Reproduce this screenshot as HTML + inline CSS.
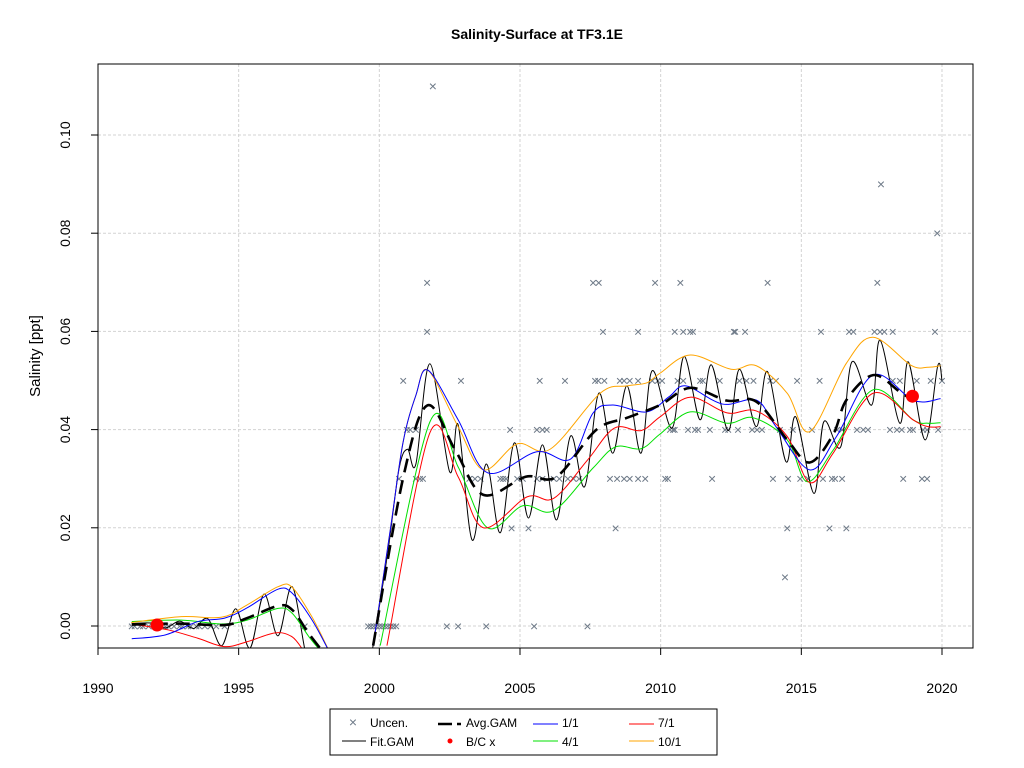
<!DOCTYPE html>
<html><head><meta charset="utf-8"><style>
body{margin:0;background:#fff;}
svg{display:block;font-family:"Liberation Sans",Arial,sans-serif;}
</style></head><body>
<svg id="chart" width="1024" height="768">
<text x="537" y="39" text-anchor="middle" font-size="14" font-weight="bold">Salinity-Surface at TF3.1E</text>
<text transform="translate(40,356) rotate(-90)" text-anchor="middle" font-size="15">Salinity [ppt]</text>
<defs><clipPath id="pc"><rect x="98" y="64" width="875" height="584"/></clipPath></defs>
<g id="grid"></g>
<g id="axes"></g>
<g id="marks" clip-path="url(#pc)"></g>
<rect x="98" y="64" width="875" height="584" fill="none" stroke="#000"/>
<g>
<rect x="330" y="709" width="387" height="46" fill="#fff" stroke="#000"/>
<g><text x="353" y="727" font-size="14" fill="#6e7a88" text-anchor="middle">×</text><text x="370" y="727" font-size="12">Uncen.</text></g>
<g><line x1="342" y1="741" x2="366" y2="741" stroke="#000"/><text x="370" y="746" font-size="12">Fit.GAM</text></g>
<g><line x1="438" y1="724" x2="452" y2="724" stroke="#000" stroke-width="2.5"/><line x1="457" y1="724" x2="461" y2="724" stroke="#000" stroke-width="2.5"/><text x="466" y="727" font-size="12">Avg.GAM</text></g>
<g><circle cx="450" cy="741" r="2.5" fill="red"/><text x="466" y="746" font-size="12">B/C x</text></g>
<g><line x1="533" y1="724" x2="558" y2="724" stroke="blue"/><text x="562" y="727" font-size="12">1/1</text></g>
<g><line x1="533" y1="741" x2="558" y2="741" stroke="#00e000"/><text x="562" y="746" font-size="12">4/1</text></g>
<g><line x1="629" y1="724" x2="654" y2="724" stroke="red"/><text x="658" y="727" font-size="12">7/1</text></g>
<g><line x1="629" y1="741" x2="654" y2="741" stroke="orange"/><text x="658" y="746" font-size="12">10/1</text></g>
</g>
</svg>
<script>
// ---- data (null = gap between segments) ----
const xTicks=[1990,1995,2000,2005,2010,2015,2020];
const yTicks=[0,0.02,0.04,0.06,0.08,0.10];
const yTickLabels=["0.00","0.02","0.04","0.06","0.08","0.10"];

const avgYrs=[1991.2,1992.9,1994.5,1995.3,1996.4,1996.9,1997.5,1998.1,null,1999.78,2000.84,2001.7,2002.7,2003.7,2005.2,2006.3,2007.7,2008.8,2009.98,2011.05,2012.36,2013.4,2014.5,2015.3,2016.13,2016.6,2017.55,2018.5,2018.97];
const avgVals=[0.0003,0.0005,0.0002,0.0016,0.0041,0.0033,-0.0016,-0.006,null,-0.004,0.03,0.0449,0.0358,0.0267,0.0304,0.0304,0.0399,0.0424,0.045,0.0485,0.0459,0.0457,0.0379,0.0333,0.039,0.046,0.0511,0.0477,0.0459];

const blueYrs=[1991.2,1992.4,1993.55,1994.5,1995.3,1996.4,1996.9,1997.6,1998.2,null,1999.78,2000.4,2000.84,2001.3,2001.73,2002.8,2003.85,2005.6,2006.8,2007.6,2008.3,2009.5,2010.3,2010.9,2012.2,2013.4,2014.1,2015.3,2016.25,2017.55,2019.0,2019.95];
const blueVals=[-0.0026,-0.0018,0.0009,0.0016,0.0037,0.0075,0.0067,0.0013,-0.005,null,-0.004,0.02,0.0373,0.047,0.0521,0.042,0.0312,0.0355,0.034,0.0434,0.045,0.0436,0.0467,0.0489,0.0452,0.046,0.0406,0.0318,0.0386,0.0511,0.0459,0.0463];

const redYrs=[1991.2,1992.5,1993.55,1994.5,1995.3,1996.3,1996.9,1997.3,null,2000.27,2001.8,2002.8,2003.7,2005.25,2006.2,2007.4,2008.35,2009.3,2009.98,2011.05,2012.36,2013.4,2014.5,2015.3,2016.13,2017.55,2018.97,2019.5,2019.95];
const redVals=[0.0004,-0.0008,-0.0025,-0.0042,-0.0032,-0.0014,-0.0022,-0.005,null,-0.004,0.0394,0.0304,0.02,0.0263,0.026,0.0338,0.0403,0.0398,0.0426,0.0466,0.0434,0.0438,0.0386,0.0292,0.0352,0.0474,0.042,0.0406,0.0406];

const greenYrs=[1991.2,1992.96,1994.4,1995.3,1996.4,1996.9,1997.5,1997.9,null,2000.03,2001.8,2002.8,2003.85,2005.1,2006.2,2007.6,2008.4,2009.3,2009.98,2011.05,2012.36,2013.3,2014.5,2015.2,2016.13,2017.55,2018.97,2019.5,2019.95];
const greenVals=[0.0009,0.0012,0.0004,0.0012,0.0036,0.0026,-0.0022,-0.005,null,-0.004,0.0416,0.0324,0.02,0.0245,0.0235,0.0322,0.0365,0.0361,0.0391,0.0436,0.0413,0.0424,0.0379,0.0294,0.0358,0.0481,0.042,0.0413,0.0414];

const orangeYrs=[1991.18,1992.96,1994.4,1995.3,1996.4,1996.9,1997.6,1998.2,null,1999.78,2000.4,2000.84,2001.3,2001.73,2002.8,2003.7,2004.9,2006.07,2007.85,2008.8,2009.5,2009.98,2011.05,2012.5,2013.4,2014.5,2015.3,2016.6,2017.55,2018.9,2019.5,2019.95];
const orangeVals=[0.0007,0.0019,0.0018,0.0043,0.008,0.0079,0.0019,-0.0049,null,-0.004,0.02,0.0373,0.047,0.0521,0.0406,0.0318,0.0371,0.036,0.0474,0.0489,0.0495,0.0515,0.0552,0.0523,0.053,0.0474,0.0396,0.0535,0.0588,0.0531,0.0527,0.053];

const fitYrs=[1991.2,1991.9,1992.4,1992.9,1993.4,1993.9,1994.4,1994.9,1995.4,1995.9,1996.4,1996.9,1997.4,1997.8,null,1999.75,2000.3,2000.7,2001.0,2001.3,2001.8,2002.5,2002.8,2003.3,2003.8,2004.3,2004.8,2005.3,2005.8,2006.3,2006.8,2007.3,2007.8,2008.3,2008.8,2009.3,2009.7,2010.4,2010.83,2011.4,2011.8,2012.4,2012.8,2013.4,2013.8,2014.45,2014.8,2015.45,2015.8,2016.4,2016.8,2017.5,2017.8,2018.5,2018.8,2019.4,2019.85,2020.0];
const fitVals=[0.0005,0.0006,-0.0004,0.001,-0.0005,0.0015,-0.004,0.0035,-0.0045,0.0065,-0.002,0.008,-0.006,-0.01,null,-0.005,0.015,0.032,0.036,0.033,0.0534,0.0314,0.041,0.0175,0.033,0.019,0.0373,0.022,0.0369,0.0216,0.0387,0.0284,0.0474,0.0352,0.0489,0.0352,0.052,0.0403,0.0549,0.042,0.0532,0.0398,0.0523,0.0406,0.0518,0.0335,0.0426,0.027,0.0416,0.0365,0.0538,0.045,0.0582,0.0413,0.0538,0.0379,0.053,0.05];

const obsYrs=[1991.2,1991.3,1991.5,1991.6,1991.8,1992.0,1992.2,1992.4,1992.5,1992.7,1992.9,1993.0,1993.2,1993.3,1993.5,1993.6,1993.8,1994.0,1994.2,1994.5,1997.35,
1999.6,1999.7,1999.8,1999.9,2000.0,2000.1,2000.2,2000.3,2000.4,2000.5,2000.6,2002.4,2002.8,2003.8,2005.5,2007.4,
2004.7,2005.3,2008.4,2014.5,2016.0,2016.6,2014.42,
2000.7,2001.3,2001.45,2001.55,2003.2,2003.4,2003.6,2004.3,2004.4,2004.5,2004.9,2005.1,2005.6,2005.8,2006.2,2006.4,2006.7,2006.9,2007.1,2008.2,2008.45,2008.7,2008.9,2009.2,2009.45,2010.16,2010.26,2011.83,2013.99,2014.53,2014.96,2015.24,2015.77,2016.09,2016.2,2016.45,2018.62,2019.29,2019.47,
2000.98,2001.1,2001.3,2004.65,2005.6,2005.8,2005.95,2010.33,2010.44,2010.5,2010.97,2011.22,2011.33,2011.75,2012.29,2012.4,2012.75,2013.25,2013.43,2013.6,2014.24,2014.7,2015.38,2016.27,2016.45,2016.98,2017.2,2017.37,2018.15,2018.4,2018.57,2018.86,2018.97,2019.33,2019.47,2019.86,
2000.85,2002.9,2005.7,2006.6,2007.67,2007.78,2008.0,2008.55,2008.7,2008.9,2009.2,2009.7,2009.9,2010.05,2010.6,2010.8,2011.4,2011.5,2012.1,2012.8,2013.05,2013.3,2013.9,2014.1,2014.85,2015.65,2018.25,2018.5,2019.1,2019.6,2020.0,
2001.7,2007.95,2009.2,2010.5,2010.8,2011.05,2011.15,2012.6,2012.65,2013.0,2015.7,2016.7,2016.85,2017.6,2017.8,2017.95,2018.25,2019.75,
2001.7,2007.6,2007.8,2009.8,2010.7,2013.8,2017.7,
2017.83,2019.83,2001.9];
const obsVals=[0,0,0,0,0,0,0,0,0,0,0,0,0,0,0,0,0,0,0,0,0,
0,0,0,0,0,0,0,0,0,0,0,0,0,0,0,0,
0.02,0.02,0.02,0.02,0.02,0.02,0.01,
0.03,0.03,0.03,0.03,0.03,0.03,0.03,0.03,0.03,0.03,0.03,0.03,0.03,0.03,0.03,0.03,0.03,0.03,0.03,0.03,0.03,0.03,0.03,0.03,0.03,0.03,0.03,0.03,0.03,0.03,0.03,0.03,0.03,0.03,0.03,0.03,0.03,0.03,0.03,
0.04,0.04,0.04,0.04,0.04,0.04,0.04,0.04,0.04,0.04,0.04,0.04,0.04,0.04,0.04,0.04,0.04,0.04,0.04,0.04,0.04,0.04,0.04,0.04,0.04,0.04,0.04,0.04,0.04,0.04,0.04,0.04,0.04,0.04,0.04,0.04,
0.05,0.05,0.05,0.05,0.05,0.05,0.05,0.05,0.05,0.05,0.05,0.05,0.05,0.05,0.05,0.05,0.05,0.05,0.05,0.05,0.05,0.05,0.05,0.05,0.05,0.05,0.05,0.05,0.05,0.05,0.05,
0.06,0.06,0.06,0.06,0.06,0.06,0.06,0.06,0.06,0.06,0.06,0.06,0.06,0.06,0.06,0.06,0.06,0.06,
0.07,0.07,0.07,0.07,0.07,0.07,0.07,
0.09,0.08,0.11];

const bcYrs=[1992.1,2018.95];
const bcVals=[0.0002,0.0468];

// ---- scales ----
const X=yr=>98+(yr-1990)*28.133;
const Y=v=>626-v*4910;
const NS="http://www.w3.org/2000/svg";
function mk(tag,attrs,parent){const e=document.createElementNS(NS,tag);for(const k in attrs)e.setAttribute(k,attrs[k]);parent.appendChild(e);return e;}
const grid=document.getElementById('grid'),axes=document.getElementById('axes'),marks=document.getElementById('marks');

xTicks.forEach(t=>{
  const g=mk('line',{x1:X(t),x2:X(t),y1:64,y2:648,stroke:'#d3d3d3','stroke-dasharray':'3,2'},grid);
  
  
  const tk=mk('line',{x1:X(t),x2:X(t),y1:648,y2:655,stroke:'#000'},axes);
  
  
  const tl=mk('text',{x:X(t),y:693,'text-anchor':'middle','font-size':14},axes);
  tl.textContent=t;
  
  
});
mk('line',{x1:X(1990),x2:X(2020),y1:648,y2:648,stroke:'#000'},axes);
yTicks.forEach((t,i)=>{
  const g=mk('line',{x1:98,x2:973,y1:Y(t),y2:Y(t),stroke:'#d3d3d3','stroke-dasharray':'3,2'},grid);
  
  
  const tk=mk('line',{x1:91,x2:98,y1:Y(t),y2:Y(t),stroke:'#000'},axes);
  
  
  const tl=mk('text',{transform:`translate(70,${Y(t)}) rotate(-90)`,'text-anchor':'middle','font-size':14},axes);
  tl.textContent=yTickLabels[i];
  
  
});

// scatter
obsYrs.forEach((yr,i)=>{
  const t=mk('text',{x:X(yr),y:Y(obsVals[i])+5,'text-anchor':'middle','font-size':14,fill:'#6e7a88'},marks);
  t.textContent='×';
  
  
});

function segs(yrs,vals){const out=[];let cur=[];yrs.forEach((y,i)=>{if(y===null){if(cur.length)out.push(cur);cur=[];}else cur.push([X(y),Y(vals[i])]);});if(cur.length)out.push(cur);return out;}
function smooth(p){let d=`M${p[0][0]},${p[0][1]}`;for(let i=0;i<p.length-1;i++){const p0=p[i-1]||p[i],p1=p[i],p2=p[i+1],p3=p[i+2]||p2;
 d+=` C${p1[0]+(p2[0]-p0[0])/6},${p1[1]+(p2[1]-p0[1])/6} ${p2[0]-(p3[0]-p1[0])/6},${p2[1]-(p3[1]-p1[1])/6} ${p2[0]},${p2[1]}`;}return d;}
function series(yrs,vals,style,name){segs(yrs,vals).forEach(s=>{const p=mk('path',Object.assign({d:smooth(s),fill:'none'},style),marks);
  
  });}

series(fitYrs,fitVals,{stroke:'#000','stroke-width':1},'fit-gam-line');
series(greenYrs,greenVals,{stroke:'#00e000','stroke-width':1},'line-4-1');
series(redYrs,redVals,{stroke:'red','stroke-width':1},'line-7-1');
series(orangeYrs,orangeVals,{stroke:'orange','stroke-width':1},'line-10-1');
series(blueYrs,blueVals,{stroke:'blue','stroke-width':1},'line-1-1');
series(avgYrs,avgVals,{stroke:'#000','stroke-width':2.6,'stroke-dasharray':'14,8'},'avg-gam-line');

bcYrs.forEach((yr,i)=>{
  const c=mk('circle',{cx:X(yr),cy:Y(bcVals[i]),r:6.5,fill:'red'},marks);
  
  
});
</script>
</body></html>
